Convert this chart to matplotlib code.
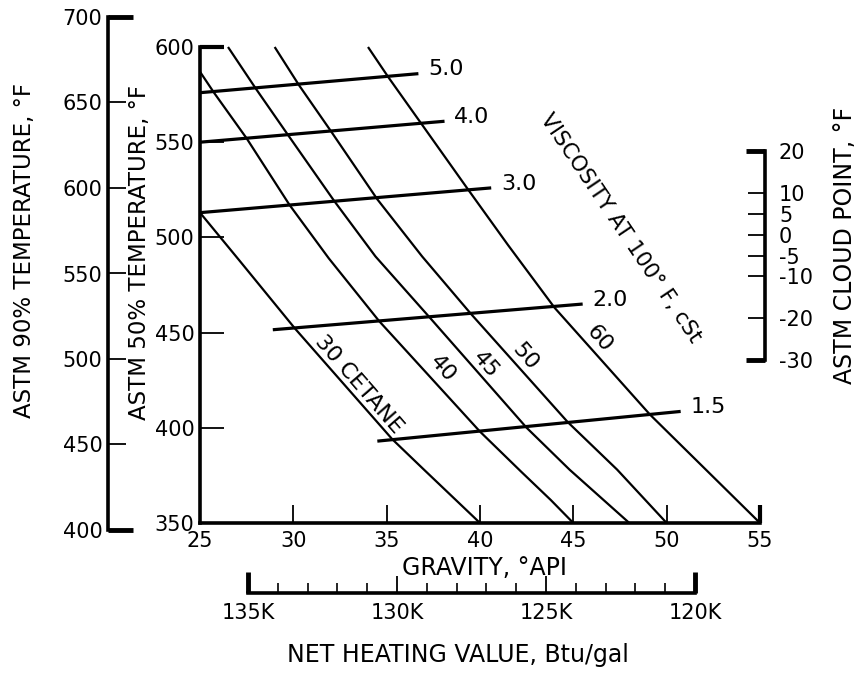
import matplotlib.pyplot as plt

plt.rcParams['font.family'] = ['DejaVu Sans']

W, H = 862, 673

# axis scales
gravity_ticks = [25, 30, 35, 40, 45, 50, 55]
t50_ticks = [350, 400, 450, 500, 550, 600]
t90_ticks = [400, 450, 500, 550, 600, 650, 700]
cloud_ticks = [20, 10, 5, 0, -5, -10, -20, -30]
cloud_labels = ['20', '10', '5', '0', '-5', '-10', '-20', '-30']
heat_major = [135, 130, 125, 120]
heat_major_labels = ['135K', '130K', '125K', '120K']
heat_minor = list(range(120, 136))

# cetane lines (gravity °API, ASTM 50% temperature °F)
cet30_api = [25.0, 27.1, 30.1, 35.3, 37.0, 40.0]
cet30_t50 = [513, 488, 452, 394, 378, 350]
cet40_api = [25.0, 25.75, 27.5, 29.8, 31.9, 34.6, 40.0, 42.2, 43.8, 45.0]
cet40_t50 = [587, 576, 552, 517, 489, 456, 398, 377, 362, 350]
cet45_api = [26.5, 28.0, 29.7, 32.2, 34.4, 37.3, 42.5, 44.8, 48.0]
cet45_t50 = [600, 578, 554, 519, 490, 458, 400, 378, 350]
cet50_api = [29.0, 30.3, 32.0, 34.5, 36.9, 39.5, 44.7, 47.35, 50.0]
cet50_t50 = [600, 580, 556, 520, 490, 460, 403, 378, 350]
cet60_api = [34.0, 35.1, 39.3, 41.5, 44.0, 49.1, 55.0]
cet60_t50 = [600, 584, 526, 496, 463, 407, 350]

cetane_labels = ['30 CETANE', '40', '45', '50', '60']
cetane_label_api = [33.5, 38.0, 40.3, 42.4, 46.4]
cetane_label_t50 = [423, 431, 433, 437.5, 447]

# viscosity lines, cSt
visc_labels = ['5.0', '4.0', '3.0', '2.0', '1.5']
visc_api_start = [25.0, 25.0, 25.0, 28.9, 34.5]
visc_t50_start = [576, 550, 513, 451.5, 393]
visc_api_end = [36.7, 38.1, 40.6, 45.5, 50.75]
visc_t50_end = [586, 561, 526, 465, 408.6]


def fx(px):
    return px / W


def fy(py):
    return 1 - py / H


fig = plt.figure(figsize=(W / 100, H / 100), dpi=100)

# ---- main chart: gravity vs 50% temperature
ax = fig.add_axes([fx(200), fy(523), (760 - 200) / W, (523 - 47) / H])
ax.set_xlim(25, 55)
ax.set_ylim(350, 600)
ax.patch.set_visible(False)
for s in ['top', 'right']:
    ax.spines[s].set_visible(False)
for s in ['left', 'bottom']:
    ax.spines[s].set_linewidth(2.6)
ax.set_xticks(gravity_ticks)
ax.set_yticks(t50_ticks)
ax.tick_params(direction='in', length=13, width=1.3, labelsize=15, pad=6)
ax.tick_params(axis='y', length=17, pad=4)
for t in [ax.xaxis.get_major_ticks()[-1], ax.yaxis.get_major_ticks()[-1]]:
    t.tick1line.set_markeredgewidth(3)

cet_api = [cet30_api, cet40_api, cet45_api, cet50_api, cet60_api]
cet_t50 = [cet30_t50, cet40_t50, cet45_t50, cet50_t50, cet60_t50]
for xs, ys in zip(cet_api, cet_t50):
    ax.plot(xs, ys, color='black', lw=1.6, clip_on=False, solid_capstyle='butt',
            solid_joinstyle='round')

for lab, x, y in zip(cetane_labels, cetane_label_api, cetane_label_t50):
    ax.text(x, y, lab, fontsize=16, rotation=-49, rotation_mode='anchor',
            ha='center', va='center')

for i in range(len(visc_labels)):
    ax.plot([visc_api_start[i], visc_api_end[i]], [visc_t50_start[i], visc_t50_end[i]],
            color='black', lw=2.3, clip_on=False, solid_capstyle='butt')
    ax.annotate(visc_labels[i], (visc_api_end[i], visc_t50_end[i]),
                xytext=(7, 3), textcoords='offset points', fontsize=16,
                ha='left', va='center')

ax.text(47.55, 504.7, 'VISCOSITY AT 100° F, cSt', fontsize=15.5, rotation=-56,
        rotation_mode='anchor', ha='center', va='center')

# ---- ASTM 90% temperature scale
ax90 = fig.add_axes([fx(108), fy(530), 0.02, (530 - 17) / H])
ax90.set_ylim(400, 700)
ax90.patch.set_visible(False)
for s in ['top', 'right', 'bottom']:
    ax90.spines[s].set_visible(False)
ax90.spines['left'].set_linewidth(2.6)
ax90.set_xticks([])
ax90.set_yticks(t90_ticks)
ax90.tick_params(direction='in', length=13, width=1.3, labelsize=15, pad=4)
for t in [ax90.yaxis.get_major_ticks()[0], ax90.yaxis.get_major_ticks()[-1]]:
    t.tick1line.set_markeredgewidth(3.5)
    t.tick1line.set_markersize(18)

# ---- ASTM cloud point scale
axc = fig.add_axes([fx(765) - 0.02, fy(360), 0.02, (360 - 151) / H])
axc.set_ylim(-30, 20)
axc.patch.set_visible(False)
for s in ['top', 'left', 'bottom']:
    axc.spines[s].set_visible(False)
axc.spines['right'].set_linewidth(2.6)
axc.set_xticks([])
axc.yaxis.tick_right()
axc.set_yticks(cloud_ticks)
axc.set_yticklabels(cloud_labels)
axc.tick_params(direction='in', length=12, width=1.3, labelsize=15, pad=10)
for t in axc.yaxis.get_major_ticks():
    if t.get_loc() in (20, -30):
        t.tick2line.set_markeredgewidth(3.5)
        t.tick2line.set_markersize(14)

# ---- net heating value scale
axh = fig.add_axes([fx(248), fy(593), (695 - 248) / W, 0.02])
axh.set_xlim(135, 120)
axh.patch.set_visible(False)
for s in ['top', 'left', 'right']:
    axh.spines[s].set_visible(False)
axh.spines['bottom'].set_linewidth(2.6)
axh.set_yticks([])
axh.set_xticks(heat_major)
axh.set_xticklabels(heat_major_labels)
axh.set_xticks(heat_minor, minor=True)
axh.tick_params(which='major', direction='in', length=12, width=1.3, labelsize=15, pad=7)
axh.tick_params(which='minor', direction='in', length=7, width=1.2)
for t in [axh.xaxis.get_major_ticks()[0], axh.xaxis.get_major_ticks()[-1]]:
    t.tick1line.set_markeredgewidth(3.5)
    t.tick1line.set_markersize(15)

# ---- axis titles
fig.text(fx(485), fy(568), 'GRAVITY, °API', ha='center', va='center', fontsize=17)
fig.text(fx(458), fy(655), 'NET HEATING VALUE, Btu/gal', ha='center', va='center', fontsize=17)
fig.text(fx(25), fy(251), 'ASTM 90% TEMPERATURE, °F', rotation=90,
         ha='center', va='center', fontsize=16.5)
fig.text(fx(140), fy(253), 'ASTM 50% TEMPERATURE, °F', rotation=90,
         ha='center', va='center', fontsize=16.5)
fig.text(fx(845), fy(245), 'ASTM CLOUD POINT, °F', rotation=90,
         ha='center', va='center', fontsize=17)

fig.savefig('out.png', dpi=100)
